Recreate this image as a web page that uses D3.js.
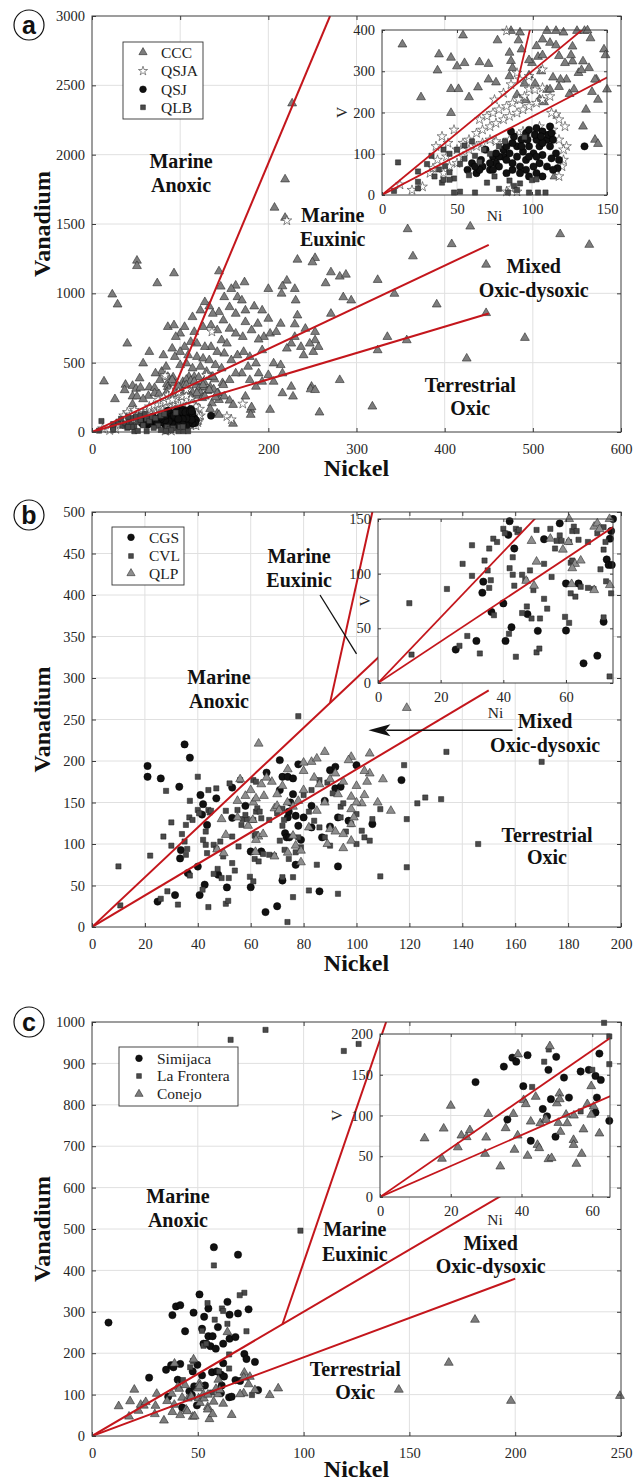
<!DOCTYPE html>
<html>
<head>
<meta charset="utf-8">
<script src="https://cdn.jsdelivr.net/npm/d3@7"></script>
<style>
  body { margin: 0; background: #fff; }
  svg { display: block; }
</style>
</head>
<body>
<svg id="chart" width="643" height="1482"></svg>
<script>
// ---- data, [Ni, V] pairs ----

// panel a
const aCCC = [
  [13.6,365],[54,387],[38,341],[46,333],[50,312],[55,320],[37,302],[65,322],[71,318],[64,261],[46,257],[51,257],
  [58,237],[26,237],[46,199],[71,280],[76,273],[86,398],[92,394],[93,353],[85,345],[86,325],[87,308],[85,288],
  [103,361],[110,398],[116,398],[121,394],[130,398],[135,398],[107,377],[112,369],[118,337],[122,320],[127,324],
  [134,324],[131,296],[123,280],[143,280],[148,353],[144,231],[136,207],[134,166],[142,134],[144,124],[115,45],
  [90,243],[98,290],[102,270],[106,300],[110,255],[114,285],[100,320],[96,230],[108,225],[118,262],[125,245],
  [140,250],[138,308],[104,335],[95,270],[127,360],[139,380],
  [227,2370],[219,1822],[207,1618],[219,1545],[358,1463],[429,1482],[531,1427],[564,1350],[408,1355],[447,1207],
  [364,1267],[233,1243],[253,1255],[250,1224],[51,1236],[51,1197],[74,1073],[93,1145],[146,1049],[173,1080],
  [163,1056],[144,1159],[23,992],[29,920],[40,638],[58,495],[65,578],[79,435],[81,554],[86,758],[93,770],
  [221,1092],[200,1032],[216,1051],[215,998],[230,1032],[231,949],[271,1152],[281,1121],[288,1135],[265,1073],
  [285,972],[294,949],[271,853],[281,375],[258,141],[324,1097],[343,997],[391,920],[335,686],[324,590],[357,662],
  [425,530],[491,679],[318,184],[447,858],[249,327],[248,308],[240,554],[251,578],[257,614],[237,614],[233,841],
  [230,777],[242,745],[253,722],[253,662],[247,638],[230,686],[226,638],[221,602],[214,483],[216,423],[206,495],
  [193,590],[195,686],[189,667],[202,710],[209,722],[214,781],[200,817],[193,877],[184,906],[174,877],[165,973],
  [158,1032],[170,949],[150,973],[156,901],[163,853],[174,793],[181,734],[188,781],[171,686],[163,710],[156,745],
  [149,805],[144,865],[137,853],[133,906],[128,937],[123,877],[114,829],[105,758],[100,710],[95,686],[116,722],
  [126,758],[135,770],[142,734],[147,662],[153,638],[150,566],[142,578],[135,614],[128,614],[119,638],[112,650],
  [105,614],[100,578],[109,554],[119,542],[126,530],[133,518],[140,483],[147,459],[158,518],[165,554],[172,578],
  [179,542],[186,495],[177,471],[170,423],[163,423],[156,375],[149,339],[137,399],[130,435],[123,471],[114,459],
  [107,495],[100,483],[94,542],[91,602],[84,471],[77,375],[72,423],[91,375],[98,327],[107,339],[116,363],[126,339],
  [133,303],[142,280],[150,256],[156,227],[160,196],[128,256],[119,280],[112,256],[105,232],[179,375],[186,327],
  [193,363],[200,411],[206,363],[189,423],[226,327],[216,280],[228,256],[253,303],[174,256],[180,160],[160,60],
  [202,160],[181,179],[180,124]
];
const aQSJA = [
  [27,20],[32,53],[40,142],[48,158],[83,398],[98,257],[122,166],[123,118],[121,85],[83,8],[86,16],[90,8],
  [34,65],[37,85],[43,93],[50,110],[54,126],[58,134],[63,150],[67,158],[72,166],[76,174],[81,183],[85,191],
  [90,199],[94,207],[98,215],[103,223],[107,231],[112,239],[102,255],[107,260],[116,195],[118,183],[114,158],
  [110,142],[105,166],[98,150],[94,154],[90,142],[85,134],[81,126],[76,130],[72,134],[67,126],[63,118],[58,110],
  [54,93],[50,77],[45,69],[41,53],[65,183],[70,191],[74,199],[78,207],[83,215],[87,223],[92,231],[95,239],
  [75,231],[81,247],[86,268],[92,280],[98,288],[90,296],[107,304],[113,199],[118,134],[121,110],[120,69],
  [118,45],[36,118],[44,126],[20,12],[12,25],
  [136,723],[171,203],[153,112],[158,90],[83,407],[221,1525],[130,410],[91,232]
];
const aQSJ = [
  [60,77],[63,53],[67,69],[72,61],[76,77],[81,93],[85,101],[90,118],[93,134],[96,150],[98,158],[103,162],
  [107,154],[112,166],[110,134],[105,118],[101,101],[96,85],[92,69],[87,61],[83,53],[78,69],[74,93],[69,110],
  [66,85],[72,77],[81,110],[87,126],[90,93],[94,105],[98,118],[103,134],[107,126],[112,118],[116,101],[118,85],
  [117,65],[114,61],[110,69],[105,77],[101,69],[96,61],[92,53],[87,77],[83,85],[78,93],[76,101],[83,118],
  [88,142],[93,118],[97,134],[102,146],[106,142],[111,146],[114,134],[113,89],[107,97],[103,93],[98,93],
  [74,61],[65,61],[62,69],[57,61],[107,45],[103,53],[98,45],[135,118],[113,150],[86,154]
];
const aQLB = [
  [10.7,79],[8,10],[24,57],[24,32],[24,16],[48,6],[62,6],[98,6],[104,6],[109,6],[35,45],[38,62],[42,70],
  [45,55],[48,40],[52,75],[55,88],[58,48],[62,95],[65,80],[68,110],[72,100],[75,45],[78,118],[82,130],
  [85,35],[88,22],[92,28],[95,140],[100,36],[40,30],[45,100],[50,110],[55,120],[60,130],[30,75],[33,95],
  [84,6],[52,8],[70,30],[78,15],[90,12],[103,38],[41,110],[45,37],[41,37]
];
const aLines = [[[0, 0], [450, 1350]], [[0, 0], [450, 855]], [[90, 270], [270, 3000]]];

// panel b
const bCGS = [
  [24.8,30.6],[31.4,38.5],[33.6,92.7],[33.3,82.6],[36.2,65],[40,72.8],[40.7,38.5],[42.6,51],[41.6,135.5],
  [42,148],[43.5,123],[47.7,63],[51,47.7],[53,131.5],[58,146],[60,91],[60,48],[64,91],[65.6,18],[70,25],
  [72,56],[74,132],[73,113],[73.6,108],[74.6,108],[75,150],[74.4,139],
  [21,194],[21,181],[26,179],[35,220],[37,204],[33,169],[41,159],[47,155],[53,168],[66,186],[71,201],[78,196],
  [100,195],[92,167],[94,169],[90,189],[92,193],[117,177],[106,124],[93,132],[86,43],[93,73],[77,75],[72,181],
  [74,181],[76,179],[77,134],[80,132],[78,122],[83,120],[79,105],[87,108],[90,121],[97,128],[83,146],[88,152],
  [76,160],[71,165]
];
const bCVL = [
  [10,73],[10.7,26],[22,86],[27,109],[30,126],[30,98],[28.5,43],[26,34],[32.5,27],[34,112],[35,103],[35.5,123],
  [36.8,132],[38,129],[36,94],[35.5,87],[37,62],[40,141],[40.5,137],[44,141],[44.5,138],[45,140],[43,115],
  [43,99],[42,105],[43.5,89],[41.8,45],[44,24],[46,99],[47,94],[47.5,70],[46,64],[49,59],[48.5,103],[49.6,85],
  [50.6,140],[50.6,28],[51.5,31.5],[51.7,59],[53,77],[53,109],[54,68],[55.4,97],[55,141],[57,130],[56.5,123],
  [58.6,130],[61,129],[59.7,60.5],[61,55],[58,135],[62,139],[62.5,143],[63.4,139],[64,131],[61.5,82],[63,79],
  [64.7,88],[67,87],[68.8,86],[67,129],[70,137],[72,142.5],[71,104],[72,60],[72.6,129],[72,122],[72.8,93],
  [73.9,6],[74.4,82],[61.5,110],[62,112],
  [78,254],[134,211],[170,199],[146,100],[119,72],[109,61],[119,130],[118,195],[126,156],[123,149],[132,154],
  [109,142],[103,108],[100,100],[106,130],[82,44],[93,40],[76,36],[40,181],[37,152],[44,165],[47,167],[52,173],
  [56,177],[61,177],[62,175],[28,164],[86,177],[89,174],[91,161],[94,145],[95,149],[100,136],[83,165],[80,159],
  [82,139],[84,128],[86,120],[88,108],[90,98],[94,132],[98,124],[102,116],[105,104],[78,108],[79,96],[77,90],
  [76,60],[85,75],[96,115]
];
const bQLP = [
  [49,130],[50.6,111],[49.8,89],[47.3,93.5],[55,132],[59,122],[61,150],[60.8,129],[62.9,109],[62,105],
  [64.7,112],[61.8,90.5],[69,85],[69,143],[70,146],[70.7,140.7],[73.9,150],[74,89.6],
  [63,221],[88,211],[105,209],[98,205],[97,201],[83,199],[85,203],[80,198],[113,140],[105,185],[103,159],
  [102,149],[98,157],[98,142],[98,124],[99,132],[98,104],[89,100],[79,78],[79,92],[119,264],[80,188],[84,180],
  [86,172],[90,178],[92,185],[95,175],[100,170],[104,175],[93,160],[88,150],[85,140],[82,120],[90,118],[95,112],
  [78,152],[76,145],[80,165],[70,160],[72,170],[68,175],[66,180],[64,172],[60,165],[62,155],[58,158],[55,152],
  [65,158],[76,110],[77,98],[100,150],[95,95],[92,115],[110,178],[108,150],[103,188],[56,178],[74,190]
];
const bLines = [[[0, 0], [150, 450]], [[0, 0], [150, 285]], [[90, 270], [106, 500]]];

// panel c
const cSimijaca = [
  [27,141],[35,160],[37.4,171],[38.5,166],[41.7,174],[49.8,172],[47.6,156],[40.5,136],[36,95],[42.6,69],
  [46,108],[47.2,99],[48.3,120],[49.6,74],[52,146.5],[53.4,122],[56.7,154],[59,156],[60.9,148.6],[61.3,122],
  [60.9,103.7],[62,176],[62.4,143.7],[64.8,93.5],
  [7.8,274],[57.6,456],[69,438],[50.8,342],[39.7,313],[41.7,316],[38,292],[48,298],[53,288],[55,308],[64,324],
  [65,293],[69,296],[74,306],[44,253],[52,259],[55,241],[57,241],[59.5,263],[52.7,223],[54,223],[56,217],
  [58.5,211],[62,223],[65,235],[67.8,239],[72,198],[73,186],[77,179],[78.5,111],[67.8,135],[70,133],[66,95]
];
const cFrontera = [
  [65.5,957],[82,981],[98.5,496],[119,930],[126,947],[242,998],[57.6,412],[54.6,321],[72,346],[69.8,340],
  [61.4,308],[62,302],[58,281],[64,271],[73,253],[52,254],[52.7,218],[54,223],[47.7,181],[46.4,166],[43,135],
  [60,156],[56.7,105],[64.8,197],[64.8,163],[75.6,99]
];
const cConejo = [
  [12.6,72],[18,84],[17.5,47],[20,112],[22,61],[23,75.5],[24.5,73.5],[25.4,82],[29.7,53],[30,73],[30.6,102],
  [34,37.5],[35.5,84.5],[38.9,75.5],[39,175],[37.7,102],[40.6,119],[41.2,114],[38,58],[41.7,50.6],[42.6,92.6],
  [44,123],[44.5,64],[45,60],[45.3,90.6],[46.7,95.5],[47.6,46.5],[48.5,47.8],[48,185],[47,94.7],[50,115],
  [50.7,127],[50.8,120],[50.4,91],[51,80],[52.6,101],[52.9,90.6],[54.7,70],[54.7,64],[55.5,40.8],[57,53],
  [57.5,83],[54.8,100],[58.6,114],[59.7,136],[59.7,101],[60.4,111],[62,78],
  [145,112],[168.6,177],[181,281],[198,85],[249.5,97],[66,51],[88,115],[84,99],[74,125],[72,153],[71.7,141],
  [74.6,143],[71.7,103],[77,111],[70,101],[64,251]
];
const cLines = [[[0, 0], [200, 600]], [[0, 0], [200, 380]], [[90, 270], [139, 1000]]];

// ticks
const aTicksX = [0, 100, 200, 300, 400, 500, 600];
const aTicksY = [0, 500, 1000, 1500, 2000, 2500, 3000];
const aInsetTicksX = [0, 50, 100, 150];
const aInsetTicksY = [0, 100, 200, 300, 400];
const bTicksX = [0, 20, 40, 60, 80, 100, 120, 140, 160, 180, 200];
const bTicksY = [0, 50, 100, 150, 200, 250, 300, 350, 400, 450, 500];
const bInsetTicksX = [0, 20, 40, 60];
const bInsetTicksY = [0, 50, 100, 150];
const cTicksX = [0, 50, 100, 150, 200, 250];
const cTicksY = [0, 100, 200, 300, 400, 500, 600, 700, 800, 900, 1000];
const cInsetTicksX = [0, 20, 40, 60];
const cInsetTicksY = [0, 50, 100, 150, 200];

// region labels [Ni, V baseline of each line]
const aRegions = [
  { lines: ['Marine', 'Anoxic'], x: 101, y: [1904, 1731] },
  { lines: ['Marine', 'Euxinic'], x: 273, y: [1514, 1341] },
  { lines: ['Mixed', 'Oxic-dysoxic'], x: 501, y: [1147, 974] },
  { lines: ['Terrestrial', 'Oxic'], x: 429, y: [288, 123] }
];
const bRegions = [
  { lines: ['Marine', 'Euxinic'], x: 78.3, y: [438.6, 409.6] },
  { lines: ['Marine', 'Anoxic'], x: 48, y: [292.8, 263.9] },
  { lines: ['Mixed', 'Oxic-dysoxic'], x: 171.3, y: [239.8, 210.8] },
  { lines: ['Terrestrial', 'Oxic'], x: 172, y: [102, 76] }
];
const cRegions = [
  { lines: ['Marine', 'Anoxic'], x: 40.6, y: [563, 505] },
  { lines: ['Marine', 'Euxinic'], x: 124.2, y: [482, 423] },
  { lines: ['Mixed', 'Oxic-dysoxic'], x: 188.4, y: [449, 394] },
  { lines: ['Terrestrial', 'Oxic'], x: 124.4, y: [145, 89] }
];
const bPointer = [[86.2, 400], [100, 329]];
const bArrow = [[159, 237], [104.5, 237]];

// ---- drawing ----
const serif = '"Liberation Serif", "Times New Roman", serif';
const svg = d3.select('#chart');
const red = '#c4161c';

const marker = {
  tri: { type: d3.symbolTriangle, size: 34, fill: '#7d7d7d', stroke: '#2b2b2b', sw: 0.6 },
  triLight: { type: d3.symbolTriangle, size: 34, fill: '#8e8e8e', stroke: '#333', sw: 0.6 },
  star: { type: d3.symbolStar, size: 30, fill: '#fff', stroke: '#3a3a3a', sw: 0.6 },
  dot: { type: d3.symbolCircle, size: 42, fill: '#111', stroke: '#000', sw: 0.5 },
  sq: { type: d3.symbolSquare, size: 27, fill: '#4a4a4a', stroke: '#1e1e1e', sw: 0.5 }
};

let clipId = 0;

function drawAxes(cfg) {
  const { box, xDomain, yDomain } = cfg;
  const g = svg.append('g');
  const x = d3.scaleLinear().domain(xDomain).range([box.l, box.r]);
  const y = d3.scaleLinear().domain(yDomain).range([box.b, box.t]);
  const tl = cfg.tickLen;

  if (cfg.inset) {
    g.append('rect').attr('x', box.l).attr('y', box.t)
      .attr('width', box.r - box.l).attr('height', box.b - box.t).attr('fill', '#fff');
  }

  // grid
  const grid = g.append('g').attr('stroke', '#e0e0e0').attr('stroke-width', 1);
  grid.selectAll('.gx').data(cfg.ticksX.filter(t => t > xDomain[0] && t < xDomain[1])).join('line')
    .attr('x1', d => x(d)).attr('x2', d => x(d)).attr('y1', box.t).attr('y2', box.b);
  grid.selectAll('.gy').data(cfg.ticksY.filter(t => t > yDomain[0] && t < yDomain[1])).join('line')
    .attr('y1', d => y(d)).attr('y2', d => y(d)).attr('x1', box.l).attr('x2', box.r);

  const id = 'clip' + (clipId++);
  g.append('clipPath').attr('id', id).append('rect')
    .attr('x', box.l).attr('y', box.t).attr('width', box.r - box.l).attr('height', box.b - box.t);

  // scatter
  cfg.series.forEach((s) => {
    const m = marker[s.marker];
    g.append('g').selectAll('path')
      .data(s.data.filter(d => d[0] >= xDomain[0] && d[0] <= xDomain[1] && d[1] >= yDomain[0] && d[1] <= yDomain[1]))
      .join('path')
      .attr('transform', d => `translate(${x(d[0])},${y(d[1])})`)
      .attr('d', d3.symbol(m.type, m.size))
      .attr('fill', m.fill)
      .attr('stroke', m.stroke)
      .attr('stroke-width', m.sw);
  });

  // boundaries
  const line = d3.line().x(d => x(d[0])).y(d => y(d[1]));
  g.append('g').attr('clip-path', `url(#${id})`).selectAll('path').data(cfg.lines).join('path')
    .attr('d', line).attr('fill', 'none').attr('stroke', red).attr('stroke-width', cfg.inset ? 1.8 : 2);

  // axes: labelled bottom / left, bare ticks on top / right
  const styleAxis = (sel) => {
    sel.select('.domain').remove();
    sel.selectAll('line').attr('stroke', '#3c3c3c');
    sel.selectAll('text').attr('font-family', serif).attr('font-size', 14.5).attr('fill', '#262626');
  };
  g.append('g').attr('transform', `translate(0,${box.b})`)
    .call(d3.axisBottom(x).tickValues(cfg.ticksX).tickFormat(d3.format('d'))
      .tickSizeInner(-tl).tickSizeOuter(0).tickPadding(cfg.padX))
    .call(styleAxis);
  g.append('g').attr('transform', `translate(${box.l},0)`)
    .call(d3.axisLeft(y).tickValues(cfg.ticksY).tickFormat(d3.format('d'))
      .tickSizeInner(-tl).tickSizeOuter(0).tickPadding(7))
    .call(styleAxis);
  g.append('g').attr('transform', `translate(0,${box.t})`)
    .call(d3.axisTop(x).tickValues(cfg.ticksX).tickFormat('').tickSizeInner(-tl).tickSizeOuter(0))
    .call(styleAxis);
  g.append('g').attr('transform', `translate(${box.r},0)`)
    .call(d3.axisRight(y).tickValues(cfg.ticksY).tickFormat('').tickSizeInner(-tl).tickSizeOuter(0))
    .call(styleAxis);

  g.append('rect').attr('x', box.l).attr('y', box.t)
    .attr('width', box.r - box.l).attr('height', box.b - box.t)
    .attr('fill', 'none').attr('stroke', '#3c3c3c').attr('stroke-width', 1);

  return { g, x, y };
}

function drawPanel(p) {
  const main = drawAxes({
    box: p.box, xDomain: p.xDomain, yDomain: p.yDomain, ticksX: p.ticksX, ticksY: p.ticksY,
    series: p.series, lines: p.lines, tickLen: 4, padX: 11.5
  });
  const { x, y } = main;
  const mid = (p.box.t + p.box.b) / 2;

  // region labels
  p.regions.forEach((r) => {
    r.lines.forEach((t, i) => {
      svg.append('text').attr('x', x(r.x)).attr('y', y(r.y[i]))
        .attr('text-anchor', 'middle').attr('font-family', serif).attr('font-weight', 'bold')
        .attr('font-size', 20).attr('fill', '#111').text(t);
    });
  });

  if (p.extra) p.extra(x, y);

  // axis titles
  svg.append('text').attr('x', (p.box.l + p.box.r) / 2).attr('y', p.box.b + p.nickelOff)
    .attr('text-anchor', 'middle').attr('font-family', serif).attr('font-weight', 'bold')
    .attr('font-size', 24).attr('fill', '#111').text('Nickel');
  svg.append('text').attr('transform', `translate(50,${mid}) rotate(-90)`)
    .attr('text-anchor', 'middle').attr('font-family', serif).attr('font-weight', 'bold')
    .attr('font-size', 24).attr('fill', '#111').text('Vanadium');

  // legend
  const lg = svg.append('g');
  const L = p.legend;
  lg.append('rect').attr('x', L.x0).attr('y', L.y0).attr('width', L.x1 - L.x0).attr('height', L.y1 - L.y0)
    .attr('fill', '#fff').attr('stroke', '#333').attr('stroke-width', 0.9);
  p.series.forEach((s, i) => {
    const m = marker[s.marker];
    lg.append('path').attr('transform', `translate(${L.mx},${L.ys[i]})`)
      .attr('d', d3.symbol(m.type, m.size * 0.85)).attr('fill', m.fill)
      .attr('stroke', m.stroke).attr('stroke-width', m.sw);
    lg.append('text').attr('x', L.tx).attr('y', L.ys[i]).attr('dy', '0.35em')
      .attr('font-family', serif).attr('font-size', 15.5).attr('fill', '#222').text(s.name);
  });

  // inset
  const ins = drawAxes({
    box: p.inset.box, xDomain: p.inset.xDomain, yDomain: p.inset.yDomain,
    ticksX: p.inset.ticksX, ticksY: p.inset.ticksY, series: p.series, lines: p.lines,
    tickLen: 3, padX: 9.2, inset: true
  });
  const ib = p.inset.box;
  svg.append('text').attr('x', (ib.l + ib.r) / 2).attr('y', p.inset.niY)
    .attr('text-anchor', 'middle').attr('font-family', serif).attr('font-size', 15.5)
    .attr('fill', '#262626').text('Ni');
  svg.append('text').attr('transform', `translate(${ib.l - p.inset.vOff},${(ib.t + ib.b) / 2}) rotate(-90)`)
    .attr('text-anchor', 'middle').attr('font-family', serif).attr('font-size', 15.5)
    .attr('fill', '#262626').text('V');

  // panel letter
  svg.append('circle').attr('cx', 29).attr('cy', p.letterY).attr('r', 15)
    .attr('fill', '#fff').attr('stroke', '#111').attr('stroke-width', 1.2);
  svg.append('text').attr('x', 29).attr('y', p.letterY).attr('dy', '0.36em')
    .attr('text-anchor', 'middle').attr('font-family', '"Liberation Sans", Arial, sans-serif')
    .attr('font-weight', 'bold').attr('font-size', 25).attr('fill', '#111').text(p.letter);
  return ins;
}

drawPanel({
  letter: 'a', letterY: 25, nickelOff: 44,
  box: { l: 92, r: 621, t: 16, b: 432 }, xDomain: [0, 600], yDomain: [0, 3000],
  ticksX: aTicksX, ticksY: aTicksY, lines: aLines, regions: aRegions,
  series: [
    { name: 'CCC', data: aCCC, marker: 'tri' },
    { name: 'QSJA', data: aQSJA, marker: 'star' },
    { name: 'QSJ', data: aQSJ, marker: 'dot' },
    { name: 'QLB', data: aQLB, marker: 'sq' }
  ],
  legend: { x0: 123, y0: 42, x1: 203, y1: 119, mx: 143, tx: 161, ys: [52.3, 71, 89.3, 107.3] },
  inset: {
    box: { l: 382, r: 607, t: 30, b: 195 }, xDomain: [0, 150], yDomain: [0, 400],
    ticksX: aInsetTicksX, ticksY: aInsetTicksY, niY: 221, vOff: 35
  }
});

drawPanel({
  letter: 'b', letterY: 515, nickelOff: 44,
  box: { l: 92, r: 621, t: 512, b: 927 }, xDomain: [0, 200], yDomain: [0, 500],
  ticksX: bTicksX, ticksY: bTicksY, lines: bLines, regions: bRegions,
  series: [
    { name: 'CGS', data: bCGS, marker: 'dot' },
    { name: 'CVL', data: bCVL, marker: 'sq' },
    { name: 'QLP', data: bQLP, marker: 'triLight' }
  ],
  legend: { x0: 112, y0: 527, x1: 184, y1: 585, mx: 131, tx: 149, ys: [537.3, 556, 573.3] },
  inset: {
    box: { l: 378, r: 613, t: 519, b: 683 }, xDomain: [0, 75], yDomain: [0, 150],
    ticksX: bInsetTicksX, ticksY: bInsetTicksY, niY: 718, vOff: 8
  },
  extra: (x, y) => {
    svg.append('line').attr('x1', x(bPointer[0][0])).attr('y1', y(bPointer[0][1]))
      .attr('x2', x(bPointer[1][0])).attr('y2', y(bPointer[1][1]))
      .attr('stroke', '#111').attr('stroke-width', 1.3);
    const x0 = x(bArrow[0][0]), x1 = x(bArrow[1][0]), ya = y(bArrow[0][1]);
    svg.append('line').attr('x1', x0).attr('y1', ya).attr('x2', x1 + 18).attr('y2', ya)
      .attr('stroke', '#111').attr('stroke-width', 1.6);
    svg.append('path').attr('d', `M${x1},${ya}L${x1 + 22},${ya - 6}L${x1 + 17},${ya}L${x1 + 22},${ya + 6}Z`)
      .attr('fill', '#111');
  }
});

drawPanel({
  letter: 'c', letterY: 1022, nickelOff: 41,
  box: { l: 92, r: 621, t: 1022, b: 1436 }, xDomain: [0, 250], yDomain: [0, 1000],
  ticksX: cTicksX, ticksY: cTicksY, lines: cLines, regions: cRegions,
  series: [
    { name: 'Simijaca', data: cSimijaca, marker: 'dot' },
    { name: 'La Frontera', data: cFrontera, marker: 'sq' },
    { name: 'Conejo', data: cConejo, marker: 'tri' }
  ],
  legend: { x0: 119, y0: 1047, x1: 238, y1: 1106, mx: 139, tx: 157, ys: [1058.3, 1076, 1094] },
  inset: {
    box: { l: 380, r: 610, t: 1034, b: 1197 }, xDomain: [0, 65], yDomain: [0, 200],
    ticksX: cInsetTicksX, ticksY: cInsetTicksY, niY: 1225, vOff: 38
  }
});
</script>
</body>
</html>
